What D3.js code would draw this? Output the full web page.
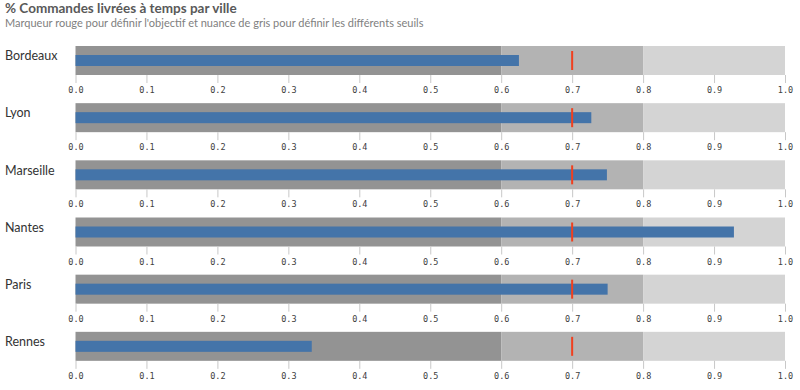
<!DOCTYPE html>
<html>
<head>
<meta charset="utf-8">
<script src="https://cdn.jsdelivr.net/npm/d3@7"></script>
<style>
  body { margin: 0; background: #fff; }
  svg { display: block; }
</style>
</head>
<body>
<div id="chart"></div>
<script>
const cities = ["Bordeaux", "Lyon", "Marseille", "Nantes", "Paris", "Rennes"]
const values = [0.625, 0.727, 0.749, 0.928, 0.75, 0.333]
const targets = [0.7, 0.7, 0.7, 0.7, 0.7, 0.7]
const thresholds = [0, 0.6, 0.8, 1.0]
const bandColors = ["#939393", "#b3b3b3", "#d4d4d4"]
const ticks = [0, 0.1, 0.2, 0.3, 0.4, 0.5, 0.6, 0.7, 0.8, 0.9, 1.0]

const W = 800, H = 390
const svg = d3.select("#chart").append("svg").attr("width", W).attr("height", H)

svg.append("text")
  .attr("x", 5).attr("y", 13)
  .style("font-family", "Lato, sans-serif")
  .style("font-size", "13.5px").style("font-weight", "bold")
  .attr("fill", "#595959")
  .text("% Commandes livrées à temps par ville")

svg.append("text")
  .attr("x", 5).attr("y", 27)
  .style("font-family", "Lato, sans-serif")
  .style("font-size", "11px")
  .attr("fill", "#808080")
  .text("Marqueur rouge pour définir l'objectif et nuance de gris pour définir les différents seuils")

const x = d3.scaleLinear().domain([0, 1]).range([75.5, 785])
const y = d3.scaleBand().domain(cities).range([46, 389]).paddingInner(0)
const bandH = 29

const rows = svg.selectAll(".row")
  .data(cities)
  .enter()
  .append("g")
  .attr("class", "row")
  .attr("transform", d => `translate(0, ${y(d)})`)

rows.append("text")
  .attr("x", 5).attr("y", 11)
  .attr("dominant-baseline", "middle")
  .style("font-family", "Lato, sans-serif")
  .style("font-size", "12.5px")
  .attr("fill", "#333")
  .text(d => d)

// threshold bands
rows.each(function () {
  const g = d3.select(this)
  g.selectAll(".band")
    .data(bandColors)
    .enter()
    .append("rect")
    .attr("x", (c, i) => x(thresholds[i]))
    .attr("width", (c, i) => x(thresholds[i + 1]) - x(thresholds[i]))
    .attr("y", 0)
    .attr("height", bandH)
    .attr("fill", c => c)
})

// measure bar
rows.append("rect")
  .attr("x", x(0))
  .attr("y", 9)
  .attr("height", 11)
  .attr("width", (d, i) => x(values[i]) - x(0))
  .attr("fill", "#4474a9")

// target marker
rows.append("rect")
  .attr("x", (d, i) => x(targets[i]) - 1)
  .attr("y", 5)
  .attr("width", 2)
  .attr("height", 19)
  .attr("fill", "#f0401f")

// axis
rows.append("g")
  .attr("transform", `translate(0, ${bandH})`)
  .call(d3.axisBottom(x).tickValues(ticks).tickFormat(d3.format(".1f")).tickSize(8).tickPadding(4))
  .call(g => g.select(".domain").remove())
  .call(g => g.selectAll(".tick line").attr("stroke", "#c8c8c8"))
  .call(g => g.selectAll(".tick text")
    .attr("fill", "#404040")
    .style("font-family", "DejaVu Sans Mono, monospace")
    .style("font-size", "8.5px"))
</script>
</body>
</html>
